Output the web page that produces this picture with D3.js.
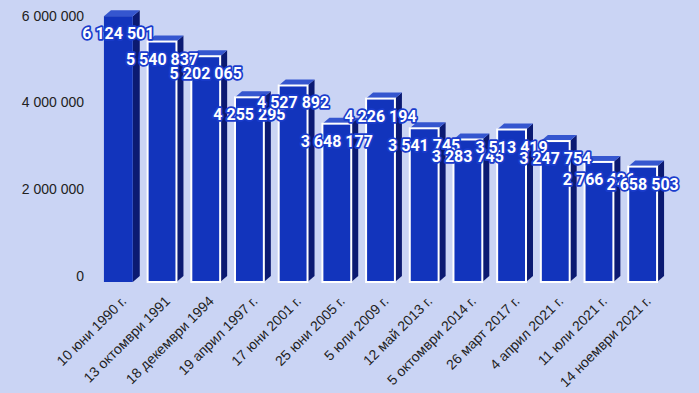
<!DOCTYPE html>
<html><head><meta charset="utf-8">
<script src="https://cdn.jsdelivr.net/npm/d3@7"></script>
<style>html,body{margin:0;padding:0;background:#cad4f4;}svg{display:block;}</style>
</head><body>
<svg id="c" width="699" height="393"></svg>
<script>
const categories = ["10 юни 1990 г.","13 октомври 1991","18 декември 1994","19 април 1997 г.","17 юни 2001 г.","25 юни 2005 г.","5 юли 2009 г.","12 май 2013 г.","5 октомври 2014 г.","26 март 2017 г.","4 април 2021 г.","11 юли 2021 г.","14 ноември 2021 г."];
const values = [6124501,5540837,5202065,4255295,4527892,3648177,4226194,3541745,3283745,3513419,3247754,2766426,2658503];
const yTicks = [0,2000000,4000000,6000000];

const W=699,H=393;
const svg=d3.select("#c");
svg.append("rect").attr("width",W).attr("height",H).attr("fill","#cad4f4");
const fmt=v=>d3.format(",")(v).replace(/,/g," ");
const x=d3.scaleBand().domain(categories).range([96.5,664.5]).paddingInner(0.34).paddingOuter(0.17);
const y=d3.scaleLinear().domain([0,6000000]).range([282,21.6]);
const DX=7,DY=6;

// y axis labels (back plane)
const ya=svg.append("g").attr("transform",`translate(84,${-DY})`)
  .call(d3.axisLeft(y).tickValues(yTicks).tickFormat(fmt).tickSize(0).tickPadding(0));
ya.select(".domain").remove();
ya.selectAll("text").attr("font-family","Liberation Sans, Arial, sans-serif").attr("font-size",14).attr("fill","#222");

const g=svg.append("g");
values.forEach((v,i)=>{
  const x0=x(categories[i]), w=x.bandwidth(), y0=y(v), yb=y(0);
  g.append("path").attr("d",`M${x0+w},${y0}L${x0+w+DX},${y0-DY}L${x0+w+DX},${yb-DY}L${x0+w},${yb}Z`).attr("fill","#0b1a72");
  g.append("path").attr("d",`M${x0},${y0}L${x0+DX},${y0-DY}L${x0+w+DX},${y0-DY}L${x0+w},${y0}Z`).attr("fill","#3556cf");
  const r=g.append("rect").attr("x",x0).attr("y",y0).attr("width",w).attr("height",yb-y0).attr("fill","#1234bc");
  if(i>0) r.attr("stroke","#ffffff").attr("stroke-width",2);
});

// value labels
svg.append("g").selectAll("text").data(values).join("text")
  .attr("x",(d,i)=>x(categories[i])+x.bandwidth()/2)
  .attr("y",d=>y(d)+23)
  .attr("text-anchor","middle")
  .attr("font-family","Roboto, sans-serif").attr("font-weight","bold").attr("font-size",16)
  .attr("fill","#fff").attr("stroke","#1a3ccc").attr("stroke-width",3.5).attr("stroke-linejoin","round")
  .attr("paint-order","stroke")
  .text(d=>fmt(d));

// x labels
svg.append("g").selectAll("text").data(categories).join("text")
  .attr("transform",d=>`translate(${x(d)+x.bandwidth()/2+9},${302}) rotate(-45)`)
  .attr("text-anchor","end")
  .attr("font-family","Liberation Sans, Arial, sans-serif").attr("font-size",14).attr("fill","#222")
  .text(d=>d);
</script>
</body></html>
